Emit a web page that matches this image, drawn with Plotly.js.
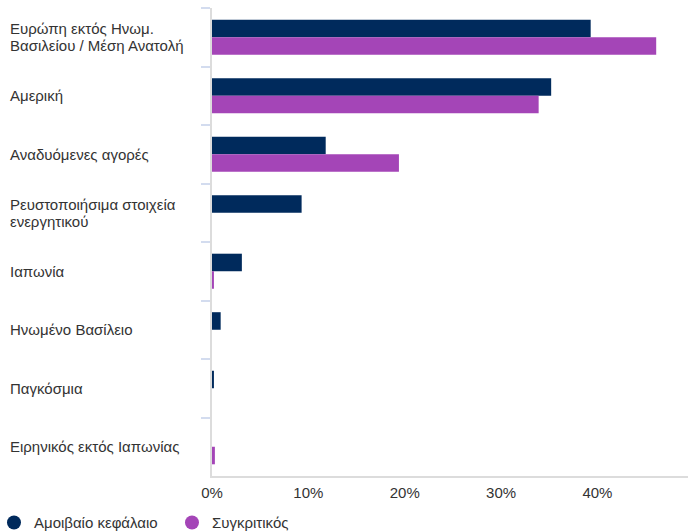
<!DOCTYPE html>
<html>
<head>
<meta charset="utf-8">
<script src="https://cdn.plot.ly/plotly-3.0.1.min.js"></script>
<style>html,body{margin:0;padding:0;background:#fff;}#chart{width:688px;height:532px;}</style>
</head>
<body>
<div id="chart"></div>
<script>
const categories = [
  "Ευρώπη εκτός Ηνωμ.<br>Βασιλείου / Μέση Ανατολή",
  "Αμερική",
  "Αναδυόμενες αγορές",
  "Ρευστοποιήσιμα στοιχεία<br>ενεργητικού",
  "Ιαπωνία",
  "Ηνωμένο Βασίλειο",
  "Παγκόσμια",
  "Ειρηνικός εκτός Ιαπωνίας"
];
const seriesNames = ["Αμοιβαίο κεφάλαιο", "Συγκριτικός"];
const fundValues = [39.3, 35.2, 11.8, 9.3, 3.1, 0.9, 0.2, 0];
const benchValues = [46.1, 33.9, 19.4, 0, 0.2, 0, 0, 0.3];
const xTickVals = [0, 10, 20, 30, 40];
const xTickText = ["0%", "10%", "20%", "30%", "40%"];

const colors = ["#002a5c", "#a445b7"];
const font = "'Liberation Sans', Arial, sans-serif";

const traces = [
  {type: "bar", orientation: "h", y: categories, x: fundValues, name: seriesNames[0],
   marker: {color: colors[0]}, showlegend: false, hoverinfo: "x+y"},
  {type: "bar", orientation: "h", y: categories, x: benchValues, name: seriesNames[1],
   marker: {color: colors[1]}, showlegend: false, hoverinfo: "x+y"},
  {type: "scatter", mode: "markers", x: [null], y: [null], name: seriesNames[0],
   marker: {color: colors[0], size: 14, symbol: "circle"}, showlegend: true},
  {type: "scatter", mode: "markers", x: [null], y: [null], name: seriesNames[1],
   marker: {color: colors[1], size: 14, symbol: "circle"}, showlegend: true}
];

const lineSpacing = 17;
const annotations = [];
categories.forEach(c => {
  const lines = c.split("<br>");
  lines.forEach((ln, i) => {
    annotations.push({
      xref: "paper", yref: "y", x: 0, y: c, xshift: -204,
      yshift: -(i - (lines.length - 1) / 2) * lineSpacing,
      xanchor: "left", yanchor: "middle", align: "left",
      text: ln, showarrow: false,
      font: {family: font, size: 15, color: "#333333"}
    });
  });
});

const layout = {
  width: 688, height: 532,
  margin: {l: 212, r: 0, t: 8, b: 56, pad: 0, autoexpand: false},
  paper_bgcolor: "#ffffff", plot_bgcolor: "#ffffff",
  barmode: "group", bargap: 0.4, bargroupgap: 0,
  font: {family: font, size: 15, color: "#333333"},
  xaxis: {
    range: [0, 49.4], tickvals: xTickVals, ticktext: xTickText,
    showgrid: false, zeroline: false, showline: true, linecolor: "#dcdcdc", linewidth: 2,
    ticks: "", ticklabelstandoff: 2,
    tickfont: {family: font, size: 15, color: "#333333"}, fixedrange: true
  },
  yaxis: {
    type: "category", autorange: "reversed",
    showticklabels: false, showgrid: false, zeroline: false,
    showline: true, linecolor: "#dcdcdc", linewidth: 2,
    ticks: "outside", tickson: "boundaries", ticklen: 9, tickcolor: "#d3dcef", tickwidth: 2,
    fixedrange: true
  },
  showlegend: true,
  legend: {
    orientation: "h", xref: "paper", yref: "paper",
    x: -0.458, xanchor: "left", y: -0.1, yanchor: "middle",
    font: {family: font, size: 15, color: "#333333"},
    entrywidth: 133, entrywidthmode: "pixels", traceorder: "normal"
  },
  annotations: annotations
};

Plotly.newPlot("chart", traces, layout, {displayModeBar: false, staticPlot: true});
</script>
</body>
</html>
